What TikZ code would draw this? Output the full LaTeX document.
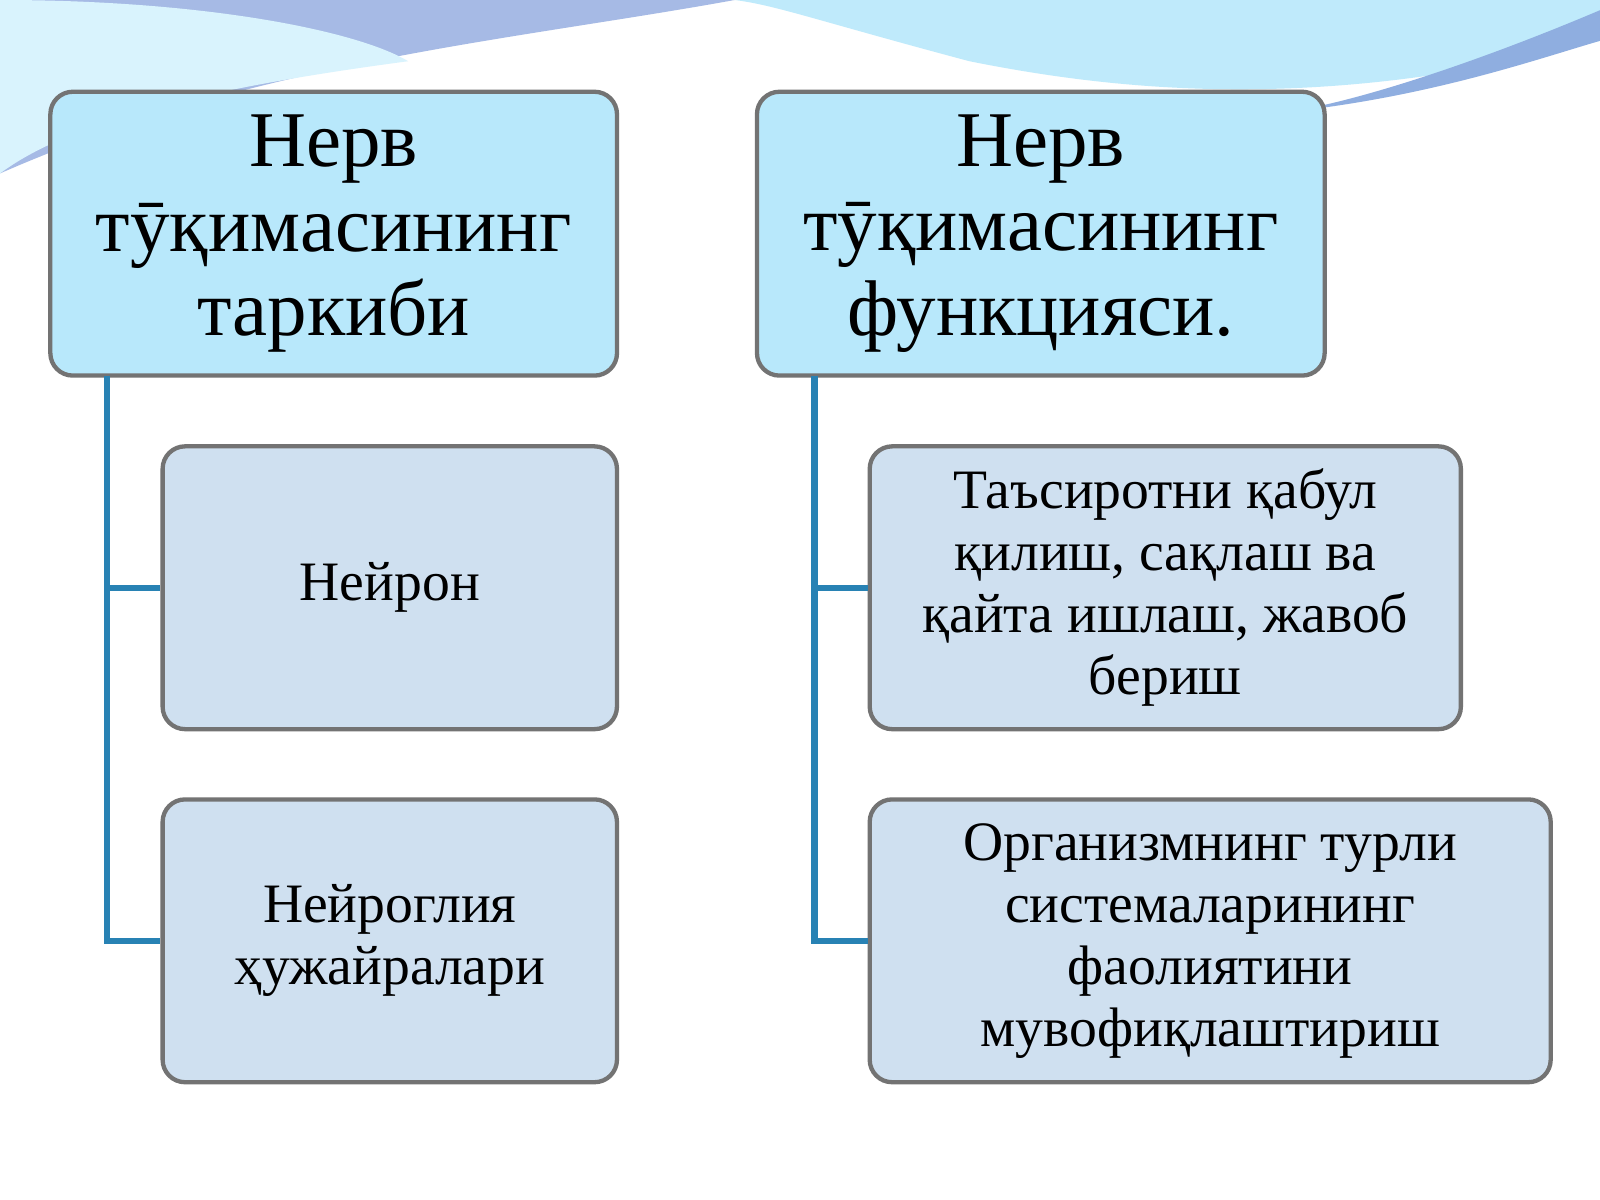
\documentclass[tikz,border=0pt]{standalone}
\usepackage{fontspec}
\setmainfont{Liberation Serif}
\begin{document}
\begin{tikzpicture}[x=0.01cm,y=-0.01cm,
  hdr/.style={draw=black!55,line width=1.2pt,rounded corners=0.22cm,fill=cyan!28!white,align=center,font=\fontsize{22}{23.5}\selectfont,inner sep=0},
  kid/.style={draw=black!55,line width=1.2pt,rounded corners=0.22cm,fill={rgb,255:red,207;green,224;blue,240},align=center,font=\fontsize{15.5}{17.3}\selectfont,inner sep=0},
  con/.style={draw={rgb,255:red,40;green,130;blue,180},line width=1.8pt}]
\useasboundingbox (0,0) rectangle (1568,1176);
\fill[white] (0,0) rectangle (1568,1176);
% top waves
\fill[cyan!25!white] (0,0) -- (1568,0) -- (1568,40) .. controls (1300,110) and (1100,90) .. (950,60) .. controls (800,20) and (760,5) .. (720,0) -- cycle;
\fill[cyan!45!blue!35!white] (0,0) -- (720,0) .. controls (500,40) and (250,60) .. (0,170) -- cycle;
\fill[cyan!50!blue!45!white] (1568,10) .. controls (1450,60) and (1330,100) .. (1260,110) .. controls (1400,95) and (1500,60) .. (1568,40) -- cycle;
\fill[cyan!15!white] (0,0) .. controls (200,0) and (350,30) .. (400,60) .. controls (250,80) and (80,110) .. (0,170) -- cycle;
% boxes
\node[hdr,minimum width=5.55cm,minimum height=2.78cm] (h1) at (327,229) {Нерв\\тӯқимасининг\\таркиби};
\node[hdr,minimum width=5.56cm,minimum height=2.78cm] (h2) at (1020,229) {Нерв\\тӯқимасининг\\функцияси.};
\node[kid,minimum width=4.45cm,minimum height=2.77cm] (a1) at (382,576) {Нейрон};
\node[kid,minimum width=4.45cm,minimum height=2.77cm] (a2) at (382,922) {Нейроглия\\ҳужайралари};
\node[kid,minimum width=5.79cm,minimum height=2.77cm] (b1) at (1142,576) {Таъсиротни қабул\\қилиш, сақлаш ва\\қайта ишлаш, жавоб\\бериш};
\node[kid,minimum width=6.67cm,minimum height=2.77cm] (b2) at (1186,922) {Организмнинг турли\\системаларининг\\фаолиятини\\мувофиқлаштириш};
% connectors
\coordinate (l0) at (105,368);
\coordinate (r0) at (798,368);
\draw[con] (l0) |- (a1.west);
\draw[con] (l0) |- (a2.west);
\draw[con] (r0) |- (b1.west);
\draw[con] (r0) |- (b2.west);
\end{tikzpicture}
\end{document}
